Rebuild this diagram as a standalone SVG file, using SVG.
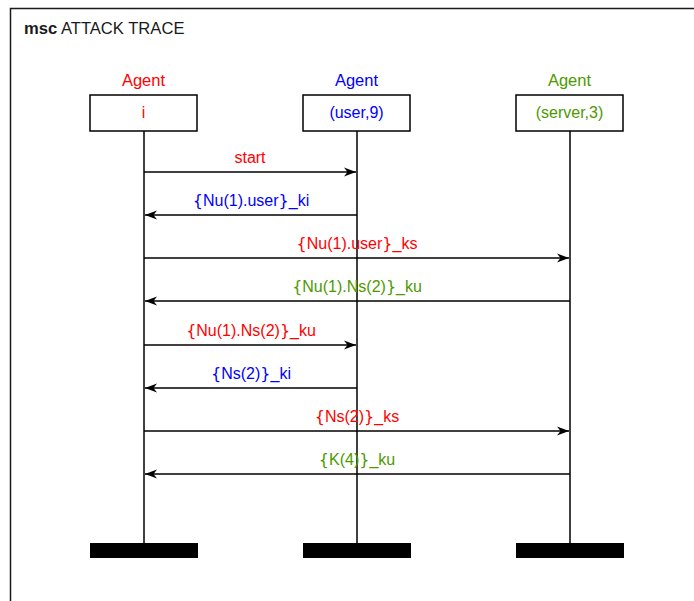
<svg xmlns="http://www.w3.org/2000/svg" width="694" height="601" viewBox="0 0 694 601">
  <style>
    text { font-family: "Liberation Sans", Arial, sans-serif; font-size: 16px; }
    .title { font-size: 16.6px; }
    .head { font-size: 16.5px; }
    .mid { text-anchor: middle; }
    .br { font-family: "DejaVu Sans", sans-serif; }
    .red { fill: #ff0000; }
    .blue { fill: #0000ff; }
    .green { fill: #4d9900; }
    .box { fill: #ffffff; stroke: #000000; stroke-width: 1.5; }
    .life { stroke: #000000; stroke-width: 1.5; fill: none; }
    .bar { fill: #000000; }
    .msg { stroke: #000000; stroke-width: 1.5; fill: none; marker-end: url(#head); }
  </style>
  <defs>
    <marker id="head" viewBox="-13 -6 14 12" refX="0" refY="0" markerWidth="14" markerHeight="12" markerUnits="userSpaceOnUse" orient="auto">
      <path d="M0,0 L-12,-4.5 L-8.5,0 L-12,4.5 Z" fill="#000000"/>
    </marker>
  </defs>

  <rect width="694" height="601" fill="#ffffff"/>

  <!-- frame -->
  <g id="frame">
    <rect x="10.5" y="8.5" width="700" height="620" fill="none" stroke="#1a1a1a" stroke-width="1.5"/>
    <text class="title" x="24" y="34" fill="#1a1a1a"><tspan font-weight="bold">msc</tspan> ATTACK TRACE</text>
  </g>

  <!-- lifelines -->
  <g id="agent-i">
    <text class="mid red head" x="143.5" y="86">Agent</text>
    <line class="life" x1="144" y1="131" x2="144" y2="543"/>
    <rect class="box" x="90" y="95" width="107" height="36"/>
    <text class="mid red" x="143.5" y="118">i</text>
    <rect class="bar" x="90" y="543" width="108" height="15"/>
  </g>
  <g id="agent-user">
    <text class="mid blue head" x="356.5" y="86">Agent</text>
    <line class="life" x1="357" y1="131" x2="357" y2="543"/>
    <rect class="box" x="303" y="95" width="107" height="36"/>
    <text class="mid blue" x="356.5" y="118">(user,9)</text>
    <rect class="bar" x="303" y="543" width="108" height="15"/>
  </g>
  <g id="agent-server">
    <text class="mid green head" x="569.5" y="86">Agent</text>
    <line class="life" x1="570" y1="131" x2="570" y2="543"/>
    <rect class="box" x="516" y="95" width="107" height="36"/>
    <text class="mid green" x="569.5" y="118">(server,3)</text>
    <rect class="bar" x="516" y="543" width="108" height="15"/>
  </g>

  <!-- messages -->
  <g id="messages">
    <line class="msg" x1="144" y1="172" x2="356" y2="172"/>
    <text class="mid red" x="250" y="163">start</text>

    <line class="msg" x1="357" y1="215" x2="145" y2="215"/>
    <text class="mid blue" x="251" y="206"><tspan class="br">{</tspan>Nu(1).user<tspan class="br">}</tspan>_ki</text>

    <line class="msg" x1="144" y1="258" x2="569" y2="258"/>
    <text class="mid red" x="357" y="249"><tspan class="br">{</tspan>Nu(1).user<tspan class="br">}</tspan>_ks</text>

    <line class="msg" x1="570" y1="301" x2="145" y2="301"/>
    <text class="mid green" x="357" y="292"><tspan class="br">{</tspan>Nu(1).Ns(2)<tspan class="br">}</tspan>_ku</text>

    <line class="msg" x1="144" y1="345" x2="356" y2="345"/>
    <text class="mid red" x="251" y="336"><tspan class="br">{</tspan>Nu(1).Ns(2)<tspan class="br">}</tspan>_ku</text>

    <line class="msg" x1="357" y1="388" x2="145" y2="388"/>
    <text class="mid blue" x="251" y="379"><tspan class="br">{</tspan>Ns(2)<tspan class="br">}</tspan>_ki</text>

    <line class="msg" x1="144" y1="431" x2="569" y2="431"/>
    <text class="mid red" x="357" y="422"><tspan class="br">{</tspan>Ns(2)<tspan class="br">}</tspan>_ks</text>

    <line class="msg" x1="570" y1="474" x2="145" y2="474"/>
    <text class="mid green" x="357" y="465"><tspan class="br">{</tspan>K(4)<tspan class="br">}</tspan>_ku</text>
  </g>
</svg>
